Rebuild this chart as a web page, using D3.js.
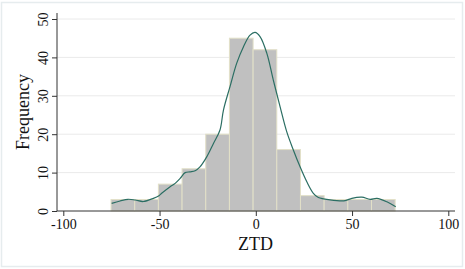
<!DOCTYPE html>
<html><head><meta charset="utf-8">
<script src="https://cdn.jsdelivr.net/npm/d3@7"></script>
<style>body{margin:0;background:#fff}svg{display:block}text{font-family:"Liberation Serif","Times New Roman",Times,serif}</style>
</head><body>
<script>
const binStart = -75.2;
const binWidth = 12.3;
const frequencies = [3, 3, 7, 11, 20, 45, 42, 16, 4, 3, 3, 3];
const xTicks = [-100, -50, 0, 50, 100];
const yTicks = [0, 10, 20, 30, 40, 50];
const kdeX = [-74.9,-70.5,-66.4,-62.7,-58.4,-53.2,-50.3,-48.9,-44.5,-41.9,-39.3,-36.7,-34.1,-31.5,-29.0,-25.5,-22.0,-18.6,-16.8,-13.4,-9.9,-6.4,-3.0,-0.4,2.2,5.7,9.1,12.6,16.1,19.5,23.0,26.5,29.9,32.5,38.6,46.4,49.9,55.1,59.4,62.9,68.1,72.7];
const kdeY = [2.0,2.6,3.05,2.86,2.47,3.3,4.0,4.6,6.3,7.2,8.5,10.0,10.2,10.5,11.5,14.1,17.6,21.1,26.3,32.4,38.5,42.8,45.8,46.5,45.4,41.1,34.1,27.2,20.6,15.9,11.5,7.6,4.6,3.5,2.9,2.7,3.3,3.6,3.05,3.3,2.4,1.1];

(function () {
const W = 465, H = 269;
const svg = d3.select("body").append("svg").attr("width", W).attr("height", H);
svg.append("rect").attr("x", 1.5).attr("y", 2.5).attr("width", 461).attr("height", 264)
  .attr("fill", "#fff").attr("stroke", "#e6ecee").attr("stroke-width", 1.5);

const x = d3.scaleLinear().domain([-100, 100]).range([63.3, 448.3]);
const y = d3.scaleLinear().domain([0, 50]).range([211, 19]);
const pLeft = 57, pRight = 455, pTop = 13, pBottom = 211;
const fmt = d => String(d);

// grid
svg.append("g").selectAll("line").data(yTicks.filter(d => d > 0)).join("line")
  .attr("x1", pLeft).attr("x2", pRight).attr("y1", d => y(d)).attr("y2", d => y(d))
  .attr("stroke", "#eaeaea").attr("stroke-width", 1);

// bars
const bins = frequencies.map((f, i) => ({x0: binStart + i * binWidth, x1: binStart + (i + 1) * binWidth, f}));
svg.append("g").selectAll("rect").data(bins).join("rect")
  .attr("x", d => x(d.x0)).attr("width", d => x(d.x1) - x(d.x0))
  .attr("y", d => y(d.f)).attr("height", d => y(0) - y(d.f))
  .attr("fill", "#c0c0c0").attr("stroke", "#e2e0c8").attr("stroke-width", 1);

// kde
const pts = kdeX.map((v, i) => [v, kdeY[i]]);
svg.append("path").datum(pts)
  .attr("d", d3.line().x(d => x(d[0])).y(d => y(d[1])).curve(d3.curveCatmullRom))
  .attr("fill", "none").attr("stroke", "#2b6e63").attr("stroke-width", 1.2);

// axes
const xa = svg.append("g").attr("transform", `translate(0,${pBottom})`)
  .call(d3.axisBottom(x).tickValues(xTicks).tickSize(5).tickPadding(3).tickFormat(fmt));
xa.attr("font-family", null);
xa.select(".domain").remove();
xa.append("line").attr("x1", pLeft).attr("x2", pRight).attr("stroke", "#333");
xa.selectAll(".tick line").attr("stroke", "#333");
xa.selectAll("text").attr("font-size", 14).attr("fill", "#111");

const ya = svg.append("g").attr("transform", `translate(${pLeft},0)`)
  .call(d3.axisLeft(y).tickValues(yTicks).tickSize(5).tickFormat(fmt));
ya.attr("font-family", null);
ya.select(".domain").remove();
ya.append("line").attr("y1", pTop).attr("y2", pBottom).attr("stroke", "#333");
ya.selectAll(".tick line").attr("stroke", "#333");
ya.selectAll("text").attr("font-size", 14).attr("fill", "#111")
  .attr("transform", "rotate(-90)").attr("x", 0).attr("y", -9).attr("dy", 0).attr("text-anchor", "middle");

svg.append("text").attr("x", (pLeft + pRight) / 2 - 0.5).attr("y", 250).attr("text-anchor", "middle")
  .attr("font-size", 18).attr("fill", "#111").text("ZTD");
svg.append("text").attr("transform", `translate(29,${(pTop + pBottom) / 2}) rotate(-90)`).attr("text-anchor", "middle")
  .attr("font-size", 18).attr("fill", "#111").text("Frequency");
})();
</script>
</body></html>
